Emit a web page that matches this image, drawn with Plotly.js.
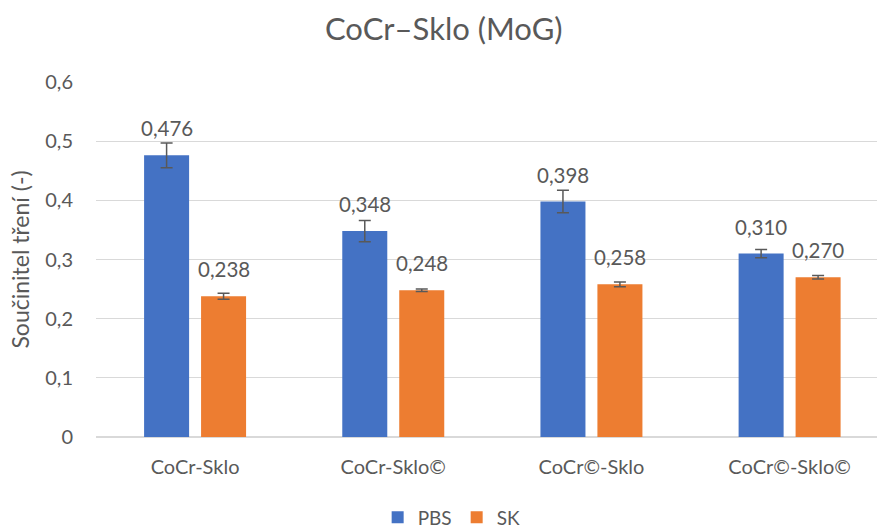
<!DOCTYPE html>
<html>
<head>
<meta charset="utf-8">
<script src="https://cdn.plot.ly/plotly-3.0.1.min.js"></script>
<style>html,body{margin:0;padding:0;background:#fff;}#chart{width:877px;height:528px;}</style>
</head>
<body>
<div id="chart"></div>
<script>
const categories = ['CoCr-Sklo', 'CoCr-Sklo©', 'CoCr©-Sklo', 'CoCr©-Sklo©'];
const pbsValues = [0.476, 0.348, 0.398, 0.310];
const pbsErrors = [0.021, 0.018, 0.019, 0.007];
const skValues = [0.238, 0.248, 0.258, 0.270];
const skErrors = [0.005, 0.002, 0.004, 0.003];
const yTicks = [0, 0.1, 0.2, 0.3, 0.4, 0.5, 0.6];

const FONT = 'Lato, "Open Sans", sans-serif';
const GREY = '#595959';

function fmt(v) { return v.toFixed(3).replace('.', ','); }

const errStyle = {type: 'data', visible: true, color: GREY, thickness: 1.5, width: 6};

const traces = [
  {type: 'bar', name: 'PBS', x: categories, y: pbsValues,
   marker: {color: '#4472C4'},
   error_y: Object.assign({array: pbsErrors}, errStyle), hoverinfo: 'y'},
  {type: 'bar', name: 'SK', x: categories, y: skValues,
   marker: {color: '#ED7D31'},
   error_y: Object.assign({array: skErrors}, errStyle), hoverinfo: 'y'}
];

const annotations = [];
categories.forEach((c, i) => {
  annotations.push({x: c, y: pbsValues[i], xref: 'x', yref: 'y', text: fmt(pbsValues[i]),
    showarrow: false, xanchor: 'center', yanchor: 'bottom', xshift: -28.5, yshift: 13,
    font: {family: FONT, size: 20.5, color: GREY}});
  annotations.push({x: c, y: skValues[i], xref: 'x', yref: 'y', text: fmt(skValues[i]),
    showarrow: false, xanchor: 'center', yanchor: 'bottom', xshift: 28.5, yshift: 13,
    font: {family: FONT, size: 20.5, color: GREY}});
});

const layout = {
  width: 877, height: 528,
  margin: {l: 96, r: 0, t: 82, b: 91, pad: 0},
  paper_bgcolor: '#ffffff', plot_bgcolor: '#ffffff',
  separators: ',.',
  font: {family: FONT, color: GREY, size: 20},
  title: {text: 'CoCr–Sklo (MoG)', font: {family: FONT, size: 31, color: GREY},
          x: 0.506, xanchor: 'center', y: 0.945, yanchor: 'middle', xref: 'container', yref: 'container'},
  barmode: 'group', bargap: 0.425, bargroupgap: 0.21,
  xaxis: {type: 'category', range: [-0.5, 3.441], showgrid: false, zeroline: false,
          showline: false, ticks: '', ticklabelstandoff: 16,
          tickfont: {family: FONT, size: 20, color: GREY}, fixedrange: true},
  yaxis: {range: [0, 0.6], tickvals: yTicks, tickformat: '.1f',
          ticktext: yTicks.map(v => v === 0 ? '0' : v.toFixed(1).replace('.', ',')),
          tickmode: 'array',
          showgrid: true, gridcolor: '#D9D9D9', gridwidth: 1.3,
          zeroline: true, zerolinecolor: '#D9D9D9', zerolinewidth: 1.3,
          showline: false, ticks: '', ticklabelstandoff: 22,
          tickfont: {family: FONT, size: 20, color: GREY},
          title: {text: 'Součinitel tření (-)', standoff: 9, font: {family: FONT, size: 23, color: GREY}},
          automargin: false, fixedrange: true},
  showlegend: true,
  legend: {orientation: 'h', xref: 'container', yref: 'container', x: 0.515, xanchor: 'center',
           y: 0.02, yanchor: 'middle', font: {family: FONT, size: 19, color: GREY},
           itemwidth: 30, traceorder: 'normal'},
  annotations: annotations
};

Plotly.newPlot('chart', traces, layout, {displayModeBar: false, staticPlot: true});
</script>
</body>
</html>
